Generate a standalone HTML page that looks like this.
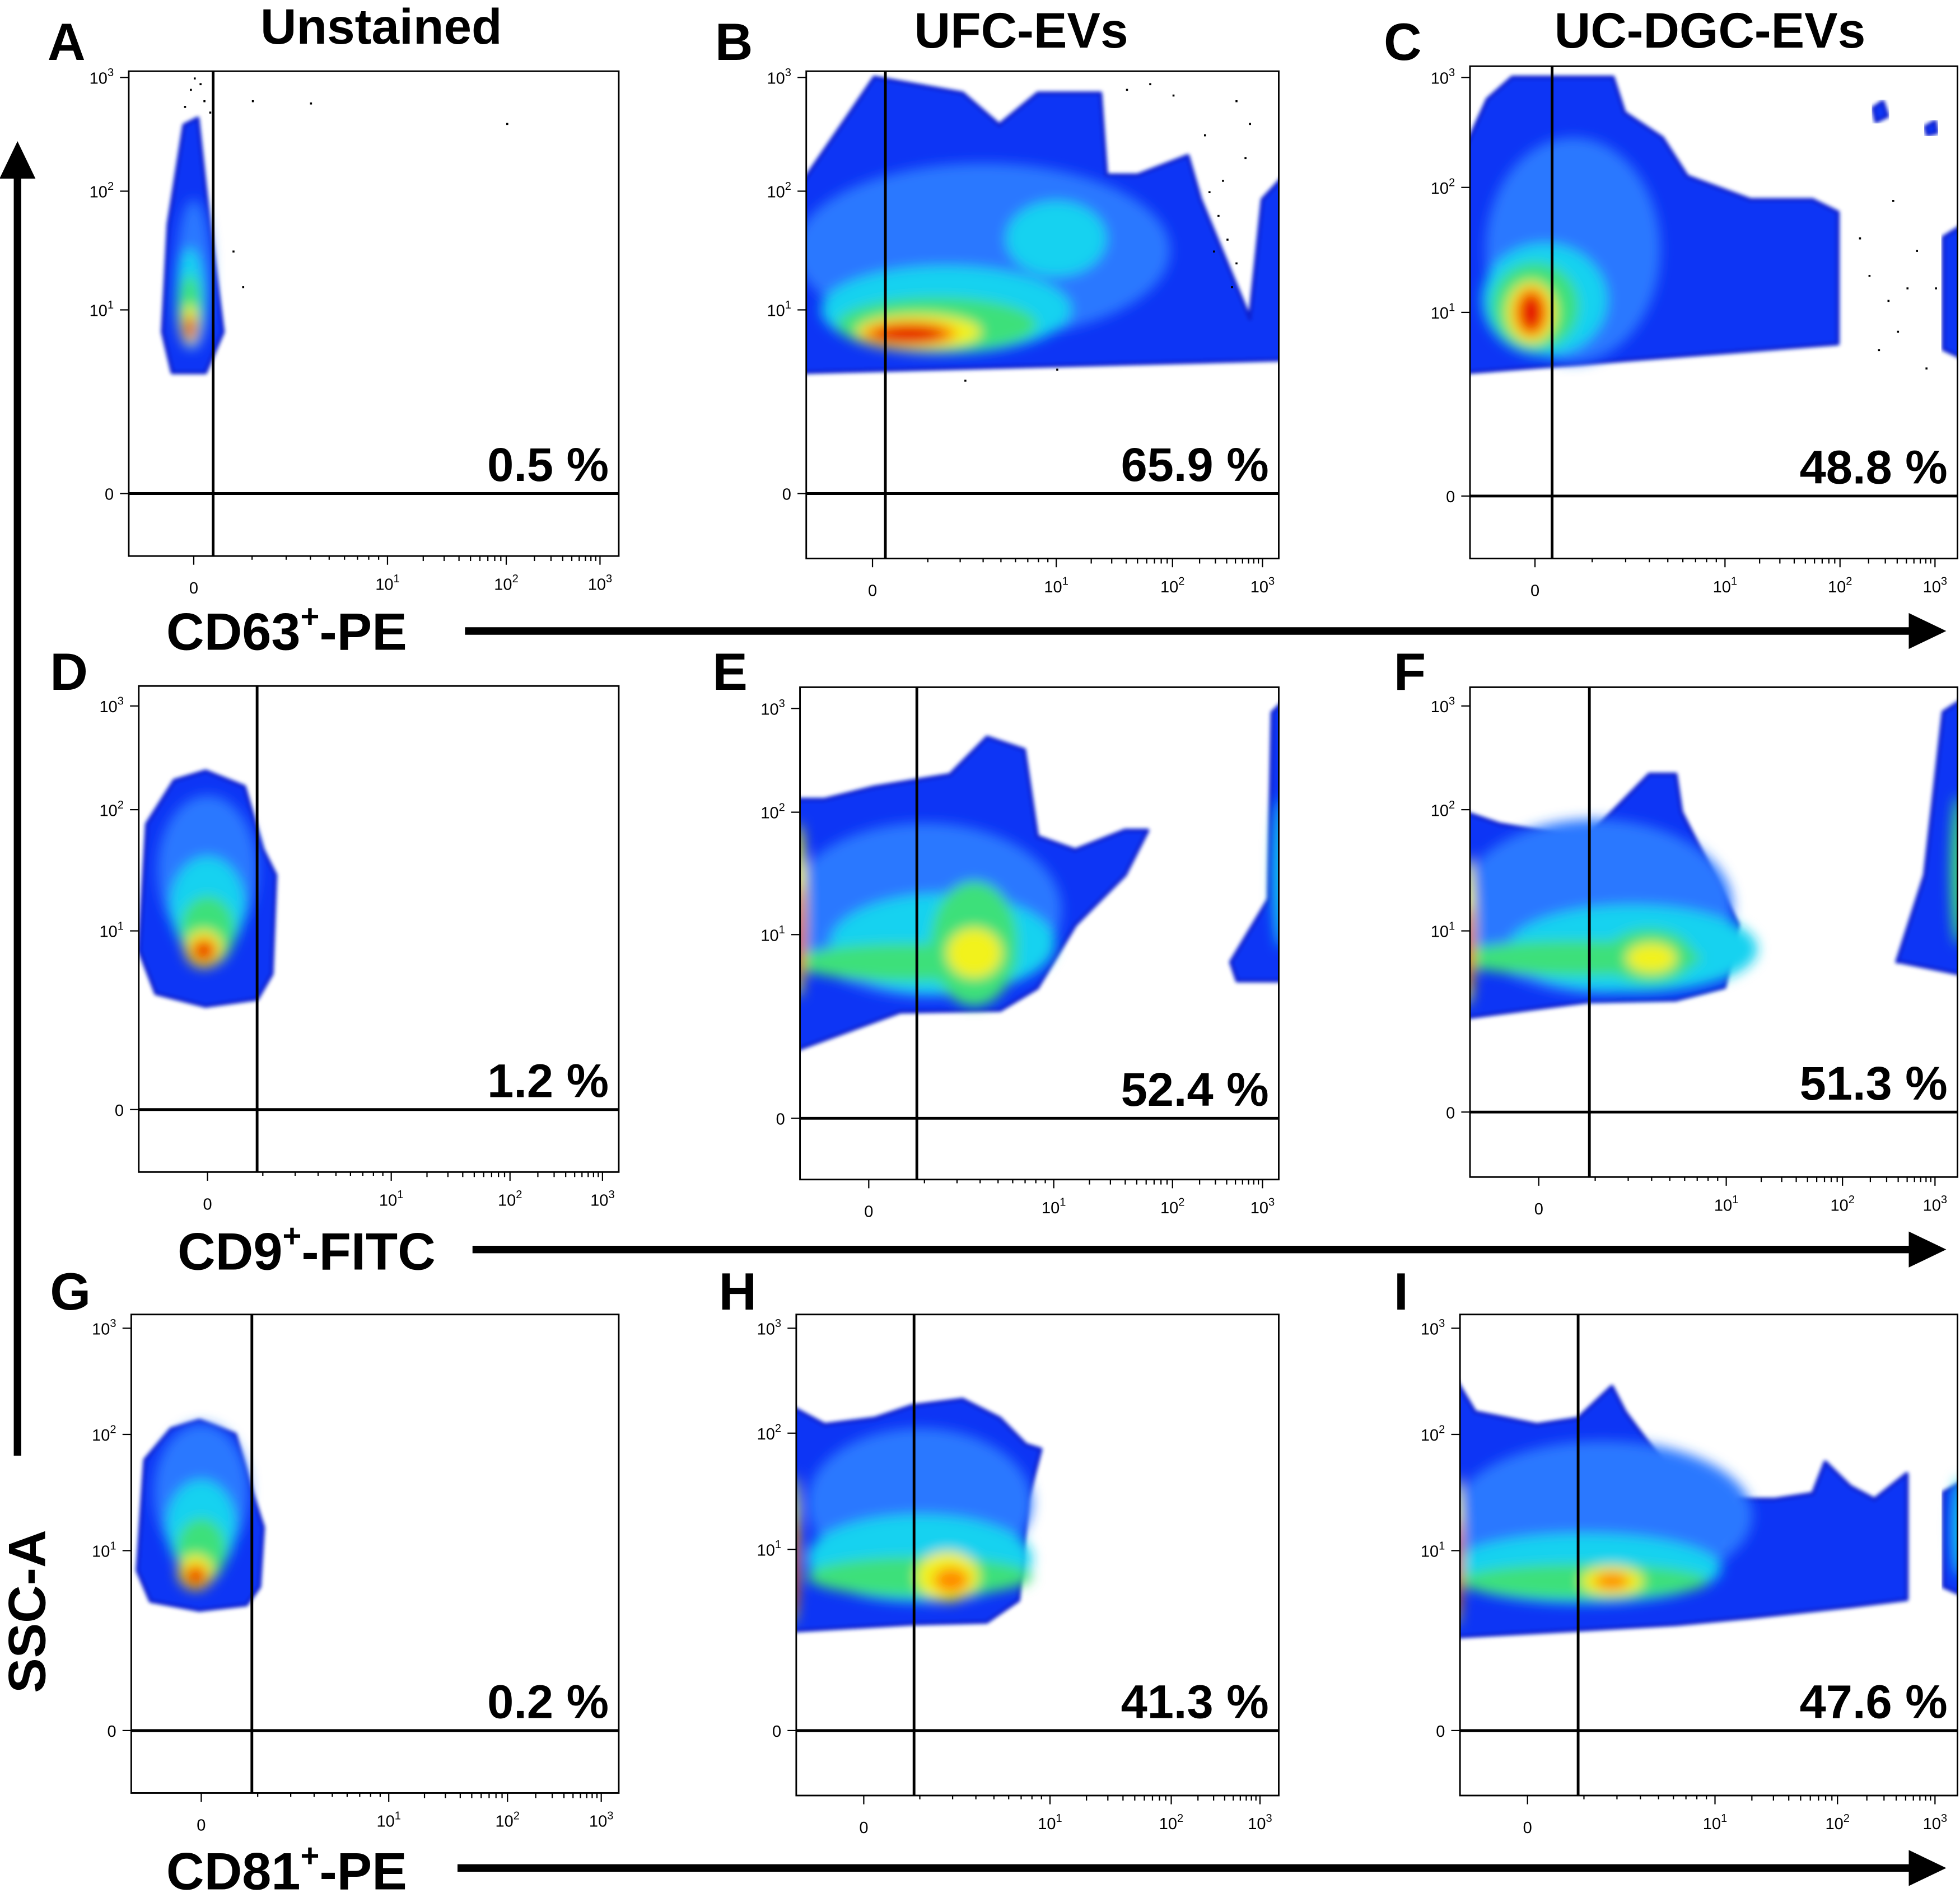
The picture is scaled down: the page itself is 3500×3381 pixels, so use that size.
<!DOCTYPE html>
<html><head><meta charset="utf-8"><style>
html,body{margin:0;padding:0;background:#fff;}
svg{display:block;}
text{font-family:"Liberation Sans",sans-serif;}
</style></head>
<body>
<svg id="fig" xmlns="http://www.w3.org/2000/svg" width="3500" height="3381" viewBox="0 0 1568 1515" preserveAspectRatio="none">
<defs>
<filter id="blr" x="-50%" y="-50%" width="200%" height="200%"><feGaussianBlur stdDeviation="5"/></filter>
<filter id="blr2" x="-10%" y="-10%" width="120%" height="120%"><feGaussianBlur stdDeviation="1.5"/></filter>
<marker id="ah" markerWidth="6" markerHeight="6" refX="3" refY="3" orient="auto" markerUnits="strokeWidth"><path d="M0,0.6 L5,3 L0,5.4 z" fill="#000"/></marker>
</defs>
<g><text x="305" y="35" font-size="40" font-weight="bold" text-anchor="middle">Unstained</text></g>
<g><text x="817" y="38" font-size="40" font-weight="bold" text-anchor="middle">UFC-EVs</text></g>
<g><text x="1368" y="38" font-size="40" font-weight="bold" text-anchor="middle">UC-DGC-EVs</text></g>

<g><text x="133" y="520" font-size="42" font-weight="bold">CD63<tspan font-size="26" dy="-18">+</tspan><tspan dy="18">-PE</tspan></text></g>
<line x1="372" y1="505" x2="1545" y2="505" stroke="#000" stroke-width="6" marker-end="url(#ah)"/>
<g><text x="142" y="1016" font-size="42" font-weight="bold">CD9<tspan font-size="26" dy="-18">+</tspan><tspan dy="18">-FITC</tspan></text></g>
<line x1="378" y1="1000" x2="1545" y2="1000" stroke="#000" stroke-width="6" marker-end="url(#ah)"/>
<g><text x="133" y="1512" font-size="42" font-weight="bold">CD81<tspan font-size="26" dy="-18">+</tspan><tspan dy="18">-PE</tspan></text></g>
<line x1="366" y1="1495" x2="1545" y2="1495" stroke="#000" stroke-width="6" marker-end="url(#ah)"/>
<g><text transform="translate(36,1355) rotate(-90)" font-size="42" font-weight="bold">SSC-A</text></g>
<line x1="14" y1="1165" x2="14" y2="125" stroke="#000" stroke-width="6" marker-end="url(#ah)"/>
<g id="panels"></g>
</svg>
<script>
const NS="http://www.w3.org/2000/svg";
const panelIds=['A','B','C','D','E','F','G','H','I'];
const percentValues=[0.5,65.9,48.8,1.2,52.4,51.3,0.2,41.3,47.6];
const gateValues=[0.1,0.07,0.09,0.27,0.26,0.27,0.27,0.27,0.27];
const xTickValues=[0,1,2,3];
const yTickValues=[0,1,2,3];
const tickExponents=['','1','2','3'];
// axis calibration (not data)
const layout=[
 {box:[103,57,495,445],xt:[155,310,405,480],yt:[395,248,153,62],letter:[38,48]},
 {box:[645,57,1023,447],xt:[698,845,938,1010],yt:[395,248,153,62],letter:[572,48]},
 {box:[1176,53,1566,447],xt:[1228,1380,1472,1548],yt:[397,250,150,62],letter:[1107,48]},
 {box:[111,549,495,938],xt:[166,313,408,482],yt:[888,745,648,565],letter:[40,552]},
 {box:[640,550,1023,944],xt:[695,843,938,1010],yt:[895,748,650,567],letter:[570,552]},
 {box:[1176,550,1566,942],xt:[1231,1381,1474,1548],yt:[890,745,648,565],letter:[1115,552]},
 {box:[105,1052,495,1435],xt:[161,311,406,481],yt:[1385,1241,1148,1063],letter:[40,1048]},
 {box:[637,1052,1023,1437],xt:[691,840,937,1008],yt:[1385,1240,1147,1063],letter:[575,1048]},
 {box:[1168,1052,1566,1437],xt:[1222,1372,1470,1548],yt:[1385,1241,1148,1063],letter:[1115,1048]}
];
// population outlines in decade units [x,y]
const blueShapes=[
 [[[-0.16,0.88],[-0.13,1.72],[-0.05,2.58],[0.02,2.64],[0.08,1.72],[0.15,0.88],[0.06,0.66],[-0.11,0.66]]],
 [[[-0.4,2.03],[-0.12,2.69],[0.01,3.0],[0.49,2.86],[0.69,2.58],[0.9,2.86],[1.38,2.86],[1.43,2.14],[1.7,2.14],[2.17,2.31],[2.31,1.93],[2.86,0.95],[3.0,1.93],[3.25,2.14],[3.25,0.73],[-0.4,0.66]]],
 [[[-0.4,2.23],[-0.25,2.8],[-0.12,3.0],[0.41,3.0],[0.47,2.68],[0.67,2.45],[0.8,2.1],[1.22,1.9],[1.76,1.9],[1.98,1.8],[1.98,0.83],[-0.4,0.67]],
  [[3.09,1.6],[3.09,0.8],[3.3,0.75],[3.3,1.7]],[[2.35,2.72],[2.45,2.78],[2.5,2.65],[2.38,2.6]],[[2.9,2.55],[3.0,2.6],[3.02,2.5],[2.92,2.48]]],
 [[[-0.37,0.89],[-0.33,1.88],[-0.18,2.28],[-0.01,2.37],[0.2,2.22],[0.3,1.67],[0.37,1.46],[0.35,0.76],[0.27,0.62],[-0.01,0.58],[-0.28,0.65]]],
 [[[-0.4,0.37],[-0.4,2.12],[-0.24,2.12],[0.03,2.24],[0.44,2.36],[0.64,2.72],[0.84,2.6],[0.91,1.8],[1.18,1.69],[1.6,1.85],[1.79,1.85],[1.6,1.49],[1.18,1.08],[0.91,0.71],[0.71,0.59],[0.17,0.58]],
  [[2.65,0.85],[3.07,1.29],[3.11,2.96],[3.25,3.08],[3.25,0.75],[2.72,0.75]]],
 [[[-0.4,0.52],[-0.4,1.98],[-0.21,1.88],[0.19,1.77],[0.26,1.77],[0.46,2.1],[0.59,2.34],[0.73,2.34],[0.76,1.98],[0.93,1.46],[1.1,1.05],[0.99,0.69],[0.73,0.62],[0.26,0.61]],
  [[2.59,0.83],[2.89,1.46],[3.09,2.94],[3.3,3.06],[3.3,0.76],[2.62,0.83]]],
 [[[-0.34,0.89],[-0.3,1.78],[-0.16,2.05],[-0.01,2.13],[0.18,2.0],[0.27,1.5],[0.33,1.2],[0.31,0.8],[0.24,0.7],[-0.01,0.67],[-0.27,0.72]]],
 [[[-0.4,0.59],[-0.4,2.26],[-0.21,2.08],[0.06,2.14],[0.26,2.26],[0.53,2.32],[0.73,2.14],[0.87,1.9],[0.95,1.86],[0.88,1.43],[0.83,0.72],[0.66,0.6],[0.26,0.59],[-0.4,0.55]]],
 [[[-0.4,0.52],[-0.4,2.56],[-0.28,2.21],[0.05,2.09],[0.27,2.15],[0.45,2.45],[0.52,2.21],[0.72,1.76],[0.85,1.33],[1.08,1.01],[1.18,1.44],[1.49,1.44],[1.8,1.49],[1.9,1.76],[2.13,1.55],[2.38,1.44],[2.71,1.66],[2.71,0.73],[2.13,0.69],[1.29,0.63],[0.79,0.59]],
  [[3.09,1.5],[3.09,0.8],[3.3,0.75],[3.3,1.6]]]
];
// hotspots [xd, yd, rx, ry, level]
const hotspots=[
 [[0,1.3,14,60,1],[-0.02,1.1,11,40,2],[-0.02,1.0,9,28,3],[-0.02,0.92,6,16,4],[-0.02,0.9,5,11,5],[-0.02,0.9,4,8,6]],
 [[0.6,1.5,150,70,1],[1.0,1.6,40,30,2],[0.4,1.0,100,35,2],[0.35,0.92,80,22,3],[0.25,0.88,50,14,4],[0.2,0.87,38,10,5],[0.2,0.87,28,7,6]],
 [[0.2,1.5,70,90,1],[0.05,1.1,50,45,2],[0.0,1.05,35,35,3],[-0.02,1.0,20,25,4],[-0.02,1.0,14,20,5],[-0.02,1.0,9,15,6]],
 [[0,1.5,40,60,1],[0,1.2,30,40,2],[0,1.0,22,28,3],[-0.02,0.9,15,15,4],[-0.02,0.89,11,10,5],[-0.02,0.89,7,7,6]],
 [[0.3,1.2,110,70,1],[0.4,0.95,90,40,2],[0.2,0.85,90,15,3],[0.57,0.95,35,50,3],[0.57,0.9,22,20,4],[-0.38,1.2,6,70,4],[-0.38,1.0,4,40,6],[3.2,1.5,6,60,2]],
 [[0.3,1.2,110,70,1],[0.5,0.9,100,35,2],[0.2,0.85,100,14,3],[0.59,0.86,35,22,3],[0.6,0.85,20,12,4],[-0.38,1.0,6,60,4],[-0.38,0.9,4,35,6],[3.25,1.5,6,60,3]],
 [[0,1.5,38,55,1],[0,1.2,28,38,2],[0,1.0,20,26,3],[-0.03,0.88,14,14,4],[-0.03,0.86,10,9,5],[-0.03,0.86,7,6,6]],
 [[0.3,1.4,90,60,1],[0.3,0.95,90,35,2],[0.3,0.85,90,16,3],[0.45,0.85,25,20,4],[0.47,0.83,14,10,5],[-0.38,1.0,5,60,4],[-0.38,0.9,4,40,6]],
 [[0.4,1.3,120,60,1],[0.3,0.9,110,28,2],[0.3,0.83,100,14,3],[0.45,0.83,25,12,4],[0.45,0.83,14,7,5],[-0.38,1.0,5,60,4],[-0.38,0.9,4,40,6],[3.25,1.2,6,40,2]]
];
const scatterDots=[
 [[-0.02,2.9],[0.03,2.95],[0.05,2.8],[-0.05,2.75],[0.08,2.7],[0.0,3.0],[0.3,2.8],[0.6,2.78],[2.0,2.6],[0.2,1.5],[0.25,1.2]],
 [[2.4,2.0],[2.5,1.8],[2.6,1.6],[2.7,1.4],[2.55,2.1],[2.8,2.3],[2.45,1.5],[2.65,1.2],[2.35,2.5],[1.6,2.9],[1.8,2.95],[2.0,2.85],[2.7,2.8],[2.85,2.6],[0.5,0.62],[1.0,0.68]],
 [[2.3,1.3],[2.5,1.1],[2.6,0.9],[2.8,1.5],[2.4,0.8],[2.9,0.7],[2.7,1.2],[2.2,1.6],[2.55,1.9],[3.0,1.2]],
 [],[],[],[],[],[]
];
const colors=['#0a36f5','#2a78ff','#12d2f0','#3ee07a','#f2f21a','#ff8a00','#e40000'];
function mapAx(t,d){
 if(d<0) return t[0]+d*(t[1]-t[0]);
 if(d>=3) return t[3]+(d-3)*(t[3]-t[2]);
 const i=Math.floor(d); return t[i]+(d-i)*(t[i+1]-t[i]);
}
function mk(tag,attrs,parent){const e=document.createElementNS(NS,tag);for(const k in attrs)e.setAttribute(k,attrs[k]);parent.appendChild(e);return e;}
const root=document.getElementById('panels');
panelIds.forEach((id,p)=>{
 const L=layout[p],[x0,y0,x1,y1]=L.box;
 const X=d=>mapAx(L.xt,d), Y=d=>mapAx(L.yt,d);
 const g=mk('g',{},root);
 
 
 const lt=mk('text',{x:L.letter[0],y:L.letter[1],'font-size':42,'font-weight':'bold'},g);
 lt.textContent=id;
 
 
 const cp=mk('clipPath',{id:'cp'+id},g);
 mk('rect',{x:x0,y:y0,width:x1-x0,height:y1-y0},cp);
 const dens=mk('g',{'clip-path':'url(#cp'+id+')'},g);
 
 
 blueShapes[p].forEach(poly=>{
  const pts=poly.map(q=>X(q[0]).toFixed(1)+','+Y(q[1]).toFixed(1)).join(' ');
  const pg=mk('polygon',{points:pts,fill:colors[0],stroke:'#0a20d0','stroke-width':3,'stroke-linejoin':'round',filter:'url(#blr2)'},dens);
  
  
 });
 const hs=mk('g',{filter:'url(#blr)'},dens);
 hotspots[p].slice().sort((a,b)=>a[4]-b[4]).forEach(h=>{
  const el=mk('ellipse',{cx:X(h[0]),cy:Y(h[1]),rx:h[2],ry:h[3],fill:colors[h[4]]},hs);
  
  
 });
 scatterDots[p].forEach(d=>{
  const c=mk('rect',{x:X(d[0]),y:Y(d[1]),width:1.6,height:1.6,fill:'#000'},dens);
  
  
 });
 const fr=mk('rect',{x:x0,y:y0,width:x1-x0,height:y1-y0,fill:'none',stroke:'#000','stroke-width':1.3},g);
 
 
 const hl=mk('line',{x1:x0,x2:x1,y1:Y(0),y2:Y(0),stroke:'#000','stroke-width':2.2},g);
 
 
 const vl=mk('line',{x1:X(gateValues[p]),x2:X(gateValues[p]),y1:y0,y2:y1,stroke:'#000','stroke-width':2.2},g);
 
 
 // ticks
 const ax=mk('g',{stroke:'#000','stroke-width':1},g);
 
 
 xTickValues.forEach(v=>mk('line',{x1:X(v),x2:X(v),y1:y1,y2:y1+7},ax));
 yTickValues.forEach(v=>mk('line',{x1:x0,x2:x0-7,y1:Y(v),y2:Y(v)},ax));
 for(let i=1;i<3;i++)for(let k=2;k<10;k++){const d=i+Math.log10(k);
  mk('line',{x1:X(d),x2:X(d),y1:y1,y2:y1+4},ax);}
 for(let k=2;k<10;k++){const d=Math.log10(k);mk('line',{x1:X(d),x2:X(d),y1:y1,y2:y1+3},ax);}
 xTickValues.forEach((v,i)=>{
  const t=mk('text',{x:X(v),y:y1+(i==0?30:27),'font-size':13,'text-anchor':'middle'},g);
  
  
  if(i==0)t.textContent='0';else{t.textContent='10';const s=mk('tspan',{'font-size':9,dy:-6},t);s.textContent=tickExponents[i];}
 });
 yTickValues.forEach((v,i)=>{
  const t=mk('text',{x:x0-12,y:Y(v)+5,'font-size':13,'text-anchor':'end'},g);
  
  
  if(i==0)t.textContent='0';else{t.textContent='10';const s=mk('tspan',{'font-size':9,dy:-6},t);s.textContent=tickExponents[i];}
 });
 const pt=mk('text',{x:x1-8,y:Y(0)-10,'font-size':38,'font-weight':'bold','text-anchor':'end'},g);
 pt.textContent=percentValues[p].toFixed(1)+' %';
 
 
});
</script>
</body></html>
